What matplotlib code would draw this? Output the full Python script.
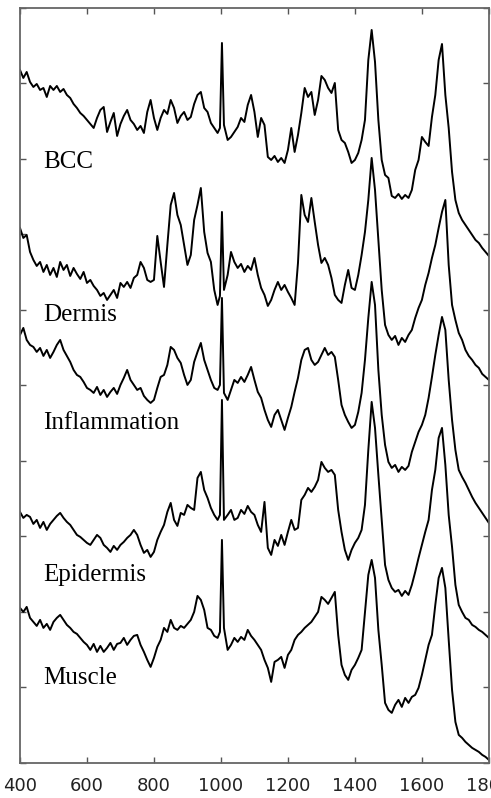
import numpy as np
import matplotlib
matplotlib.use('Agg')
import matplotlib.pyplot as plt

# Raman shift grid (cm-1), denser around the 1003 phenylalanine line
wavenumber = list(range(400, 1000, 10)) + [997, 1003, 1009] + list(range(1020, 1810, 10))

# offset intensities (a.u.)
bcc = [693, 685, 691, 681, 676, 679, 673, 675, 666, 677,
       673, 677, 671, 674, 668, 665, 659, 655, 650, 647,
       643, 639, 635, 645, 653, 656, 631, 641, 650, 627,
       639, 647, 653, 643, 639, 633, 637, 630, 651, 663,
       645, 633, 645, 653, 649, 663, 655, 640, 647, 651,
       643, 646, 659, 668, 671, 655, 651, 640, 635, 630,
       635, 720, 638,
       623, 626, 631, 636, 645, 641, 658, 668, 651, 626,
       645, 638, 606, 603, 607, 601, 605, 600, 613, 635,
       611, 628, 650, 675, 666, 671, 648, 663, 687, 683,
       675, 670, 680, 633, 623, 620, 611, 600, 603, 610,
       623, 643, 703, 733, 701, 643, 603, 588, 585, 567,
       565, 569, 564, 568, 565, 573, 593, 603, 626, 621,
       617, 646, 668, 703, 719, 668, 635, 591, 563, 550,
       543, 538, 533, 528, 523, 520, 515, 511, 507]

dermis = [535, 525, 528, 511, 503, 497, 501, 491, 498, 488,
          495, 486, 501, 493, 498, 487, 495, 489, 484, 491,
          480, 483, 477, 473, 467, 470, 463, 468, 473, 465,
          480, 476, 481, 475, 485, 488, 501, 495, 483, 481,
          483, 527, 501, 476, 518, 558, 570, 548, 538, 518,
          498, 508, 543, 558, 575, 531, 510, 501, 473, 458,
          467, 551, 473,
          488, 511, 501, 495, 499, 491, 497, 493, 505, 488,
          475, 468, 457, 463, 473, 481, 473, 478, 471, 465,
          458, 500, 568, 548, 541, 565, 541, 518, 500, 505,
          498, 485, 468, 463, 460, 478, 493, 475, 473, 488,
          508, 531, 563, 605, 573, 523, 473, 438, 428, 423,
          427, 418, 425, 421, 428, 433, 445, 455, 463, 478,
          490, 505, 518, 535, 551, 563, 498, 458, 443, 430,
          423, 413, 407, 403, 398, 395, 389, 386, 383]

inflammation = [428, 435, 423, 418, 416, 411, 415, 407, 413, 405,
                411, 418, 423, 413, 407, 401, 393, 388, 386, 381,
                375, 373, 370, 376, 368, 373, 366, 371, 375, 369,
                378, 385, 393, 383, 378, 373, 375, 367, 363, 360,
                363, 375, 386, 388, 398, 416, 413, 405, 400, 388,
                378, 383, 401, 411, 420, 403, 393, 383, 375, 373,
                378, 465, 370,
                363, 373, 383, 380, 386, 381, 388, 396, 383, 371,
                365, 353, 343, 336, 348, 353, 343, 333, 345, 356,
                371, 385, 403, 413, 415, 403, 398, 401, 408, 415,
                408, 411, 406, 383, 358, 348, 341, 335, 338, 351,
                370, 403, 445, 481, 458, 393, 348, 318, 301, 295,
                298, 291, 296, 293, 297, 311, 321, 331, 338, 348,
                365, 386, 408, 428, 446, 433, 383, 343, 313, 293,
                286, 280, 273, 266, 260, 255, 250, 245, 240]

epidermis = [251, 245, 248, 246, 239, 243, 235, 241, 233, 239,
             243, 247, 250, 245, 241, 238, 233, 228, 226, 223,
             220, 218, 223, 228, 225, 218, 215, 211, 217, 213,
             218, 221, 225, 228, 233, 228, 218, 210, 213, 206,
             211, 223, 231, 238, 251, 260, 243, 237, 250, 248,
             258, 255, 253, 285, 291, 273, 265, 255, 248, 243,
             248, 363, 243,
             248, 253, 243, 245, 253, 249, 257, 251, 248, 238,
             231, 261, 215, 208, 223, 217, 228, 218, 231, 243,
             233, 235, 263, 268, 275, 271, 276, 283, 301, 295,
             291, 293, 288, 253, 231, 213, 203, 213, 220, 225,
             233, 258, 313, 361, 335, 288, 243, 198, 183, 175,
             171, 173, 167, 172, 168, 178, 191, 205, 218, 231,
             243, 273, 293, 325, 335, 298, 248, 216, 178, 158,
             151, 145, 143, 138, 136, 133, 131, 128, 125]

muscle = [155, 151, 156, 145, 141, 137, 143, 135, 139, 133,
          141, 145, 148, 143, 138, 135, 131, 129, 125, 121,
          118, 113, 119, 111, 117, 111, 115, 120, 113, 119,
          120, 125, 118, 123, 127, 128, 118, 111, 103, 96,
          105, 116, 123, 135, 131, 143, 135, 133, 137, 135,
          139, 143, 151, 167, 163, 153, 135, 133, 127, 125,
          131, 223, 135,
          113, 118, 125, 121, 126, 123, 133, 127, 123, 118,
          113, 103, 95, 81, 101, 103, 106, 95, 108, 113,
          123, 128, 131, 135, 138, 141, 146, 151, 166, 163,
          159, 165, 171, 128, 98, 88, 83, 93, 98, 105,
          113, 151, 188, 203, 185, 133, 98, 60, 53, 50,
          58, 63, 56, 65, 60, 66, 68, 75, 88, 103,
          118, 128, 158, 185, 195, 175, 123, 73, 41, 28,
          25, 21, 18, 15, 13, 11, 8, 6, 3]

spectra = [bcc, dermis, inflammation, epidermis, muscle]
names = ['BCC', 'Dermis', 'Inflammation', 'Epidermis', 'Muscle']
label_y = [601, 448, 340, 188, 85]

fig = plt.figure(figsize=(4.91, 7.98), dpi=100)
ax = fig.add_axes([0.0407, 0.044, 0.955, 0.946])

for spec in spectra:
    ax.plot(wavenumber, spec, color='black', lw=1.4)

for name, ly in zip(names, label_y):
    ax.text(469, ly, name, family='Liberation Serif', fontsize=18, va='center', ha='left')

ax.set_xlim(400, 1800)
ax.set_ylim(0, 755)
ax.set_xticks(range(400, 1801, 200))
ax.set_yticks(np.arange(11) * 75.5)
ax.set_yticklabels([])
ax.tick_params(direction='in', length=4.5, width=1.0, color='#555555',
               top=True, right=True, labelsize=13, pad=10, labelcolor='#222222')
for sp in ax.spines.values():
    sp.set_color('#666666')
    sp.set_linewidth(1.3)

fig.savefig('out.png', dpi=100)
